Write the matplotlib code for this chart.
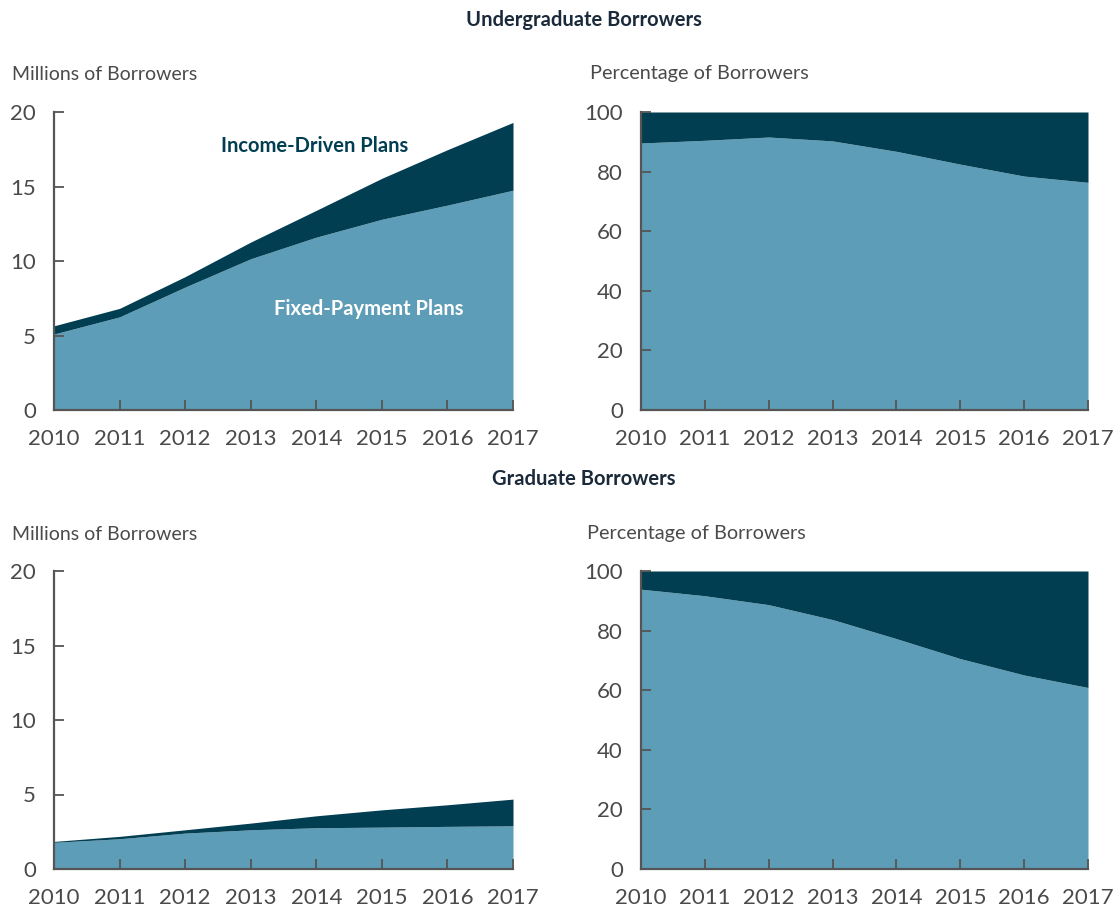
import matplotlib
matplotlib.use("Agg")
import matplotlib.pyplot as plt
import numpy as np

plt.rcParams['font.family'] = ['Lato', 'DejaVu Sans']

years = [2010, 2011, 2012, 2013, 2014, 2015, 2016, 2017]

# Undergraduate borrowers, millions
ug_fixed = [5.1, 6.25, 8.25, 10.15, 11.6, 12.8, 13.75, 14.75]
ug_income = [0.55, 0.57, 0.7, 1.12, 1.8, 2.75, 3.72, 4.55]
# Undergraduate, percentage
ug_fixed_pct = [89.6, 90.5, 91.6, 90.3, 86.8, 82.5, 78.5, 76.4]

# Graduate borrowers, millions
gr_fixed = [1.79, 2.03, 2.41, 2.63, 2.77, 2.81, 2.86, 2.9]
gr_income = [0.06, 0.16, 0.22, 0.45, 0.8, 1.16, 1.45, 1.79]
# Graduate, percentage
gr_fixed_pct = [93.9, 91.7, 88.7, 83.7, 77.3, 70.6, 65.1, 60.9]

LIGHT = '#5e9db7'
DARK = '#023e52'
TITLE = '#1b2a3a'
TXT = '#4a4a4a'
AX = '#555555'

W, H = 1113, 908
fig = plt.figure(figsize=(W / 100, H / 100), dpi=100)


def ax_at(x0, x1, ytop, ybot):
    return fig.add_axes([x0 / W, 1 - ybot / H, (x1 - x0) / W, (ybot - ytop) / H])


def style(ax, ymax, step):
    ax.set_xlim(years[0], years[-1])
    ax.set_ylim(0, ymax)
    ax.set_xticks(years)
    ax.set_yticks(np.arange(0, ymax + 0.1, step))
    ax.set_yticklabels([f"{int(v)}" for v in np.arange(0, ymax + 0.1, step)])
    for s in ['top', 'right']:
        ax.spines[s].set_visible(False)
    for s in ['left', 'bottom']:
        ax.spines[s].set_color(AX)
        ax.spines[s].set_linewidth(1.6)
        ax.spines[s].set_zorder(5)
    ax.tick_params(axis='both', direction='in', length=7, width=1.3, color=AX,
                   labelsize=16, labelcolor=TXT)
    ax.tick_params(axis='y', pad=13)
    ax.tick_params(axis='x', pad=14)
    ax.set_axisbelow(False)


def stack_abs(ax, fixed, income):
    total = np.array(fixed) + np.array(income)
    ax.fill_between(years, 0, fixed, color=LIGHT, lw=0, zorder=2)
    ax.fill_between(years, fixed, total, color=DARK, lw=0, zorder=2)


def stack_pct(ax, fixed_pct):
    ax.fill_between(years, 0, fixed_pct, color=LIGHT, lw=0, zorder=2)
    ax.fill_between(years, fixed_pct, 100, color=DARK, lw=0, zorder=2)


# Top-left
a1 = ax_at(54, 513, 112, 410)
stack_abs(a1, ug_fixed, ug_income)
style(a1, 20, 5)
a1.text(2013.97, 17.7, 'Income-Driven Plans', fontsize=14.5, fontweight='bold',
        color=DARK, ha='center', va='center')
a1.text(2014.8, 6.8, 'Fixed-Payment Plans', fontsize=14.5, fontweight='bold',
        color='white', ha='center', va='center')

# Top-right
a2 = ax_at(641, 1088, 112, 410)
stack_pct(a2, ug_fixed_pct)
style(a2, 100, 20)

# Bottom-left
a3 = ax_at(54, 513, 571, 869)
stack_abs(a3, gr_fixed, gr_income)
style(a3, 20, 5)

# Bottom-right
a4 = ax_at(641, 1088, 571, 869)
stack_pct(a4, gr_fixed_pct)
style(a4, 100, 20)

# Titles and axis labels
fig.text(584 / W, 1 - 20 / H, 'Undergraduate Borrowers', fontsize=14.5, fontweight='bold',
         color=TITLE, ha='center', va='center')
fig.text(584 / W, 1 - 479 / H, 'Graduate Borrowers', fontsize=14.5, fontweight='bold',
         color=TITLE, ha='center', va='center')
fig.text(12 / W, 1 - 74 / H, 'Millions of Borrowers', fontsize=14, color=TXT,
         ha='left', va='center')
fig.text(590 / W, 1 - 74 / H, 'Percentage of Borrowers', fontsize=14.3, color=TXT,
         ha='left', va='center')
fig.text(12 / W, 1 - 534 / H, 'Millions of Borrowers', fontsize=14, color=TXT,
         ha='left', va='center')
fig.text(587 / W, 1 - 534 / H, 'Percentage of Borrowers', fontsize=14.3, color=TXT,
         ha='left', va='center')

fig.savefig('out.png', dpi=100, facecolor='white')
